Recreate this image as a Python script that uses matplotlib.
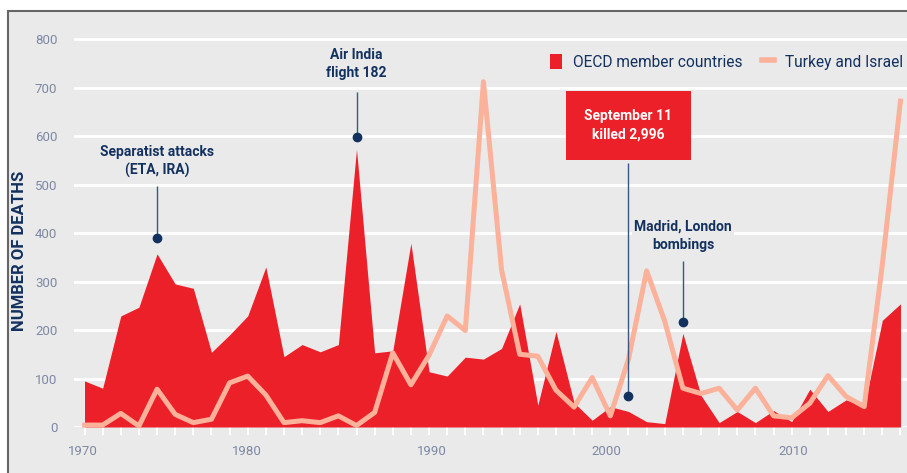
import numpy as np
import matplotlib.pyplot as plt
from matplotlib.patches import Patch, Rectangle
from matplotlib.lines import Line2D

# annees (1993 absente des donnees)
years = list(range(1970, 1993)) + list(range(1994, 2017))
oecd = [95, 80, 229, 247, 357, 295, 286, 154, 190, 229,
        330, 145, 170, 155, 170, 573, 153, 157, 379, 114,
        105, 144, 140, 162, 254, 45, 197, 50, 14, 42,
        32, 11, 7, 193, 65, 9, 32, 9, 34, 11,
        78, 32, 56, 42, 220, 254]
turkey = [4, 4, 28, 2, 78, 26, 9, 16, 91, 105,
          66, 9, 13, 9, 23, 3, 30, 153, 87, 148,
          229, 199, 712, 324, 150, 146, 76, 41, 102, 23,
          140, 322, 218, 80, 69, 80, 35, 80, 23, 19,
          49, 106, 63, 42, 335, 672]

year_labels = ["1970", "1980", "1990", "2000", "2010"]
year_label_pos = [-0.07, 8.96, 19.17, 28.77, 39.08]
y_ticks = [0, 100, 200, 300, 400, 500, 600, 700, 800]

# evenements annotes
events = ["Separatist attacks\n(ETA, IRA)", "Air India\nflight 182",
          "September 11\nkilled 2,996", "Madrid, London\nbombings"]
event_year = [1974, 1985, 2001, 2004]
event_dot = [390, 598, 64, 216]
event_line_top = [497, 690, 544, 342]
event_text_y = [548, 748, 622, 394]

red = "#EC2029"
salmon = "#FBB19A"
navy = "#13315F"
tick_col = "#7D88A3"
bg = "#EAEAEA"

plt.rcParams['font.family'] = ['Roboto', 'DejaVu Sans']

fig = plt.figure(figsize=(9.07, 4.73), dpi=100, facecolor="white")
fig.add_artist(Rectangle((8 / 907, -0.01), 1.0, 1.01 - 10.5 / 473, transform=fig.transFigure,
                         facecolor=bg, edgecolor="#666666", lw=1.5, zorder=-1))

ax = fig.add_axes([74 / 907, 46 / 473, 833 / 907, 402.5 / 473])
ax.set_facecolor("none")

x = np.arange(len(years))
ax.fill_between(x, oecd, 0, color=red, lw=0, zorder=2)
ax.plot(x, turkey, color=salmon, lw=3.6, zorder=3, clip_on=False)

ax.set_xlim(-0.58, 45.36)
ax.set_ylim(0, 830)

for s in ax.spines.values():
    s.set_visible(False)

ax.set_yticks(y_ticks)
ax.set_yticklabels([str(v) for v in y_ticks])
ax.tick_params(axis="y", length=0, pad=12, labelsize=9.5, labelcolor=tick_col)
ax.grid(axis="y", color="white", lw=2, zorder=0)
ax.set_axisbelow(True)

ax.set_xticks(year_label_pos)
ax.set_xticklabels(year_labels)
ax.set_xticks(x, minor=True)
ax.tick_params(axis="x", which="major", length=0, pad=13, labelsize=9.5, labelcolor=tick_col)
ax.tick_params(axis="x", which="minor", length=5.5, width=1.5, color="white", direction="out")

fig.text(20 / 907, 1 - 251 / 473, "NUMBER OF DEATHS", rotation=90, ha="center", va="center",
         fontsize=12, fontweight="bold", color=navy)

# annotations
for i in range(len(events)):
    xi = years.index(event_year[i])
    ax.vlines(xi, event_dot[i], event_line_top[i], color="#3B5680", lw=1, zorder=4)
    ax.plot(xi, event_dot[i], "o", color=navy, ms=6, zorder=5)
    if i == 2:
        ax.text(xi, event_text_y[i], events[i], ha="center", va="center", fontsize=10,
                fontweight="bold", color="white", linespacing=1.35, zorder=6,
                bbox=dict(boxstyle="square,pad=1.35", facecolor=red, edgecolor="none"))
    else:
        ax.text(xi, event_text_y[i], events[i], ha="center", va="center", fontsize=10,
                fontweight="bold", color=navy, linespacing=1.35, zorder=6,
                bbox=dict(boxstyle="square,pad=0.15", facecolor=bg, edgecolor="none"))

handles = [Patch(facecolor=red, edgecolor="none"),
           Line2D([0], [0], color=salmon, lw=4)]
leg = fig.legend(handles, ["OECD member countries", "Turkey and Israel"],
                 loc="center right", bbox_to_anchor=(903 / 907, 1 - 62 / 473), ncol=2,
                 frameon=False, fontsize=11.2, handlelength=0.75, handleheight=1.1,
                 handletextpad=0.7, columnspacing=1.3, borderaxespad=0, borderpad=0)
for t in leg.get_texts():
    t.set_color(navy)

fig.savefig("out.png", dpi=100, facecolor="white")
